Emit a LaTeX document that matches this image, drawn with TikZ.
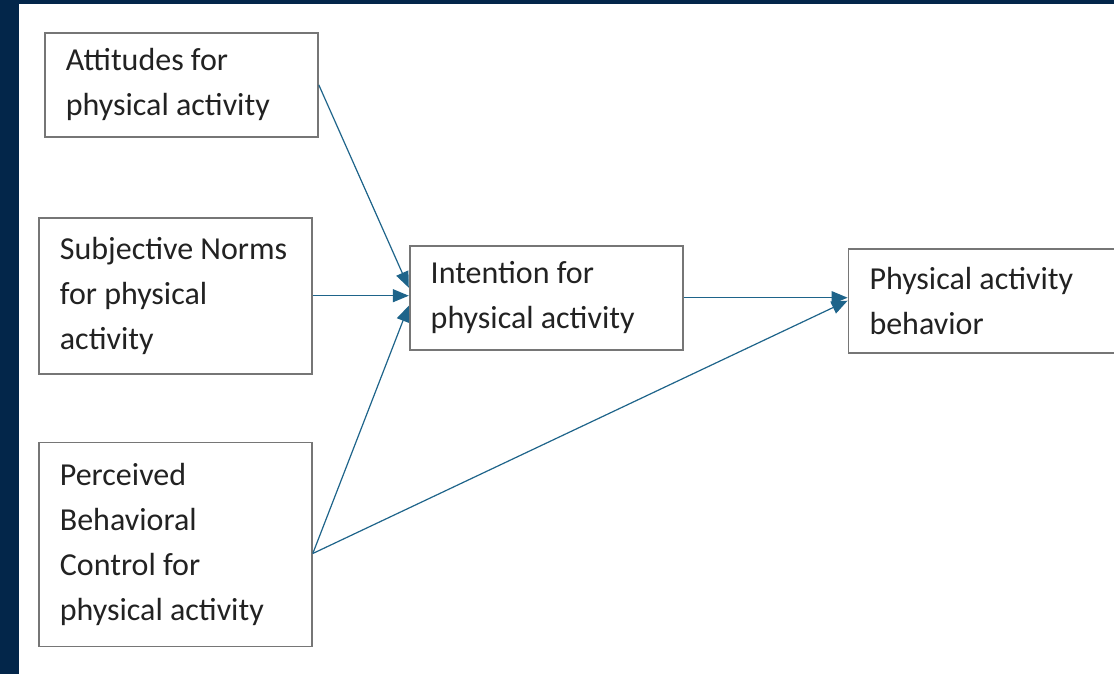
\documentclass[tikz,border=0pt]{standalone}
\usepackage{fontspec}
\setmainfont{Carlito}
\usepackage{tikz}
\usetikzlibrary{positioning,arrows.meta}

\definecolor{framenavy}{RGB}{3,38,74}
\definecolor{boxgray}{RGB}{118,118,118}
\definecolor{textgray}{RGB}{34,34,34}
\definecolor{linkblue}{RGB}{30,100,138}

\tikzset{
  box/.style={draw=boxgray, line width=1.8pt, fill=white, text=textgray, align=left,
    text width=231pt, inner xsep=21pt, inner ysep=0pt,
    font=\fontsize{32}{45}\selectfont,
    execute at begin node={\spaceskip=0pt\xspaceskip=0pt}},
  link/.style={draw=linkblue, line width=1.2pt, -{Triangle[length=16pt,width=13pt,fill=linkblue]}}
}

\begin{document}
\begin{tikzpicture}
  % frame of the slide
  \useasboundingbox (0,0) rectangle (1114pt,-674pt);
  \fill[white] (0,0) rectangle (1114pt,-674pt);
  \fill[framenavy] (0,0) rectangle (19pt,-674pt);
  \fill[framenavy] (0,0) rectangle (1114pt,-4pt);
  % Define nodes
  \node[box, minimum height=104pt, anchor=north west] (att) at (44pt,-32pt) {Attitudes for\\physical activity};
  \node[box, minimum height=156pt, below=79pt of att, xshift=-6pt] (sub) {Subjective Norms\\for physical\\activity};
  \node[box, minimum height=204pt, below=67pt of sub] (per) {Perceived\\Behavioral\\Control for\\physical activity};
  \node[box, minimum height=104pt, right=96pt of sub, yshift=-2pt] (int) {Intention for\\physical activity};
  \node[box, minimum height=104pt, right=164pt of int, yshift=-3pt] (pab) {Physical activity\\behavior};
  % connect beliefs to intention
  \draw[link] (att.east) -- ([yshift=10pt]int.west);
  \draw[link] (sub.east) -- (sub.east -| int.west);
  \draw[link] ([yshift=-9pt]per.east) -- ([yshift=-8pt]int.west);
  % connect to behavior
  \draw[link] (int.east) -- (int.east -| pab.west);
  \draw[link] ([yshift=-9pt]per.east) -- (pab.west);
\end{tikzpicture}
\end{document}
